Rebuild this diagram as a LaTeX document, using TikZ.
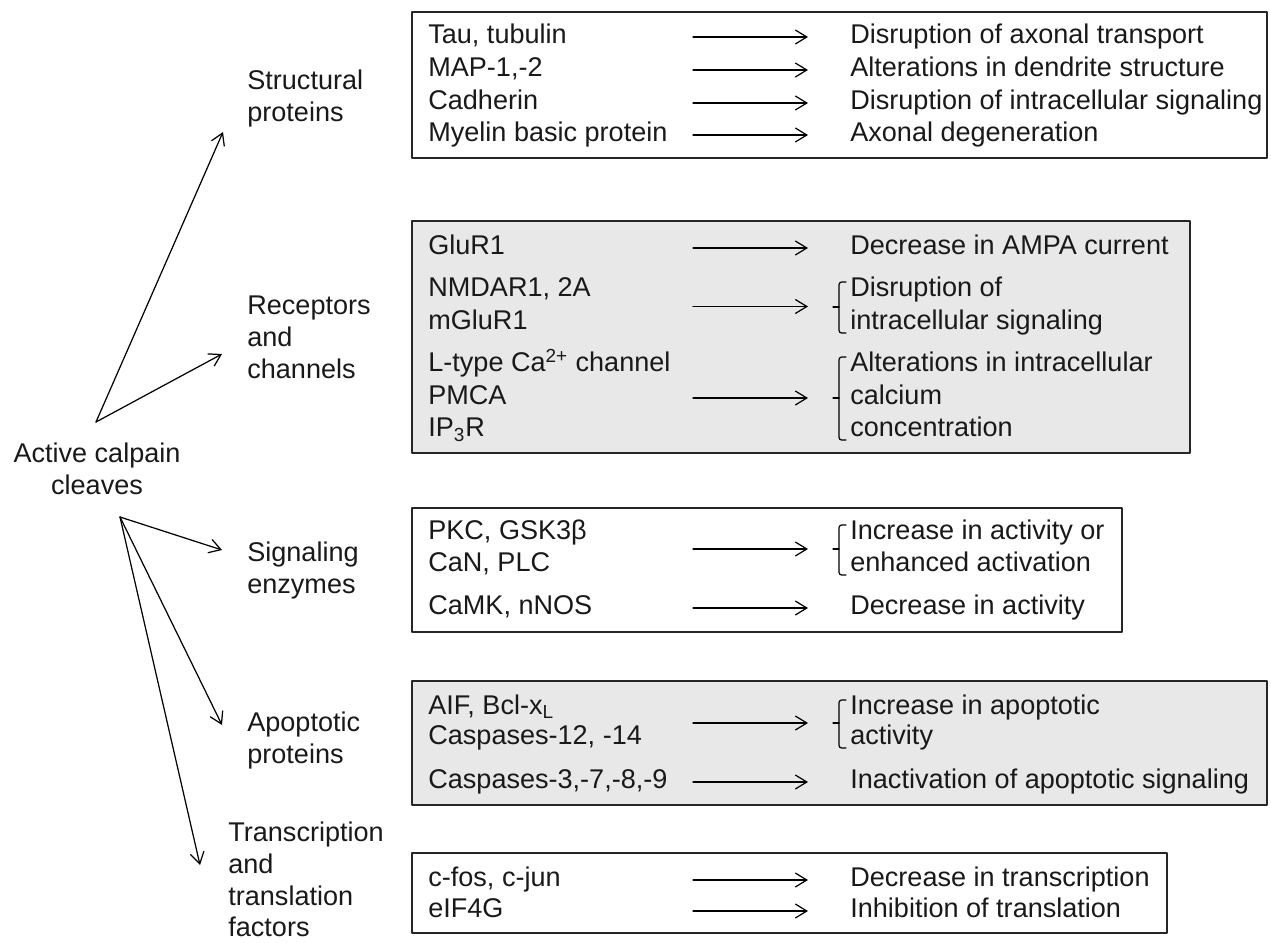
\documentclass[tikz,border=0pt]{standalone}
\usepackage{fontspec}
\setmainfont{Liberation Sans}
\usetikzlibrary{arrows.meta,calc}
\tikzset{
  every picture/.style={line join=round, line cap=round, >={Straight Barb[length=2.3mm,width=2.8mm]}},
  panel/.style={draw=black!85, line width=1.1pt},
  shaded/.style={panel, fill=black!9},
  lbl/.style={anchor=north west, align=left, inner sep=0pt},
  item/.style={anchor=west, inner sep=0pt, text height=0.75em, text depth=0pt},
  link/.style={->, line width=0.7pt},
  brk/.style={line width=0.7pt, rounded corners=1.5pt},
}

\begin{document}
\begin{tikzpicture}[x=0.02cm, y=-0.02cm, font={\fontsize{15.4pt}{18pt}\selectfont}, text=black!90]
\useasboundingbox (0,0) rectangle (1271,943);
% arrow columns
\coordinate (ax) at (693,0);
\coordinate (bx) at (808,0);

% boxes
\draw[panel] (412,12) rectangle (1267,158);
\draw[shaded] (412,221) rectangle (1190,453);
\draw[panel] (412,508) rectangle (1122,632);
\draw[shaded] (412,681) rectangle (1267,805);
\draw[panel] (412,853) rectangle (1167,933);

% left side
\node[align=center, anchor=north, inner sep=0pt] (calpain) at (97,443) {Active calpain\\cleaves};
\coordinate (fork1) at (96,422);
\coordinate (fork2) at (120,517);
\node[lbl] (struct) at (247,70) {Structural\\proteins};
\node[lbl] (recep) at (247,296) {Receptors\\and\\channels};
\node[lbl] (sigenz) at (247,542) {Signaling\\enzymes};
\node[lbl] (apop) at (247,712) {Apoptotic\\proteins};
\node[lbl] (transl) at (228,822) {Transcription\\and\\translation\\factors};
\coordinate (tipS) at (223,132);
\coordinate (tipR) at (222,354);
\coordinate (tipE) at (222,550);
\coordinate (tipA) at (222,725);
\coordinate (tipT) at (200,865);
\draw[link] (fork1) -- (tipS);
\draw[link] (fork1) -- (tipR);
\draw[link] (fork2) -- (tipE);
\draw[link] (fork2) -- (tipA);
\draw[link] (fork2) -- (tipT);

% structural proteins
\node[item] (tau) at (428,37) {Tau, tubulin};
\node[item] (map) at (428,70) {MAP-1,-2};
\node[item] (cadh) at (428,103) {Cadherin};
\node[item] (myel) at (428,135) {Myelin basic protein};
\node[item] (tauR) at (850,37) {Disruption of axonal transport};
\node[item] (mapR) at (850,70) {Alterations in dendrite structure};
\node[item] (cadhR) at (850,103) {Disruption of intracellular signaling};
\node[item] (myelR) at (850,135) {Axonal degeneration};
\draw[link] (tau -| ax) -- (tau -| bx);
\draw[link] (map -| ax) -- (map -| bx);
\draw[link] (cadh -| ax) -- (cadh -| bx);
\draw[link] (myel -| ax) -- (myel -| bx);

% receptors and channels
\node[item] (glu) at (428,248) {GluR1};
\node[item] (nmda) at (428,290) {NMDAR1, 2A};
\node[item] (mglu) at (428,323) {mGluR1};
\node[item] (ltype) at (428,365) {L-type Ca\textsuperscript{2+} channel};
\node[item] (pmca) at (428,398) {PMCA};
\node[item] (ipr) at (428,430) {IP\textsubscript{3}R};
\node[item] (gluR) at (850,248) {Decrease in AMPA current};
\node[item] (nmdaR) at (850,290) {Disruption of};
\node[item] (mgluR) at (850,323) {intracellular signaling};
\node[item] (ltypeR) at (850,365) {Alterations in intracellular};
\node[item] (pmcaR) at (850,398) {calcium};
\node[item] (iprR) at (850,430) {concentration};
\coordinate (g1) at ($(nmda)!0.5!(mglu)$);
\draw[link] (glu -| ax) -- (glu -| bx);
\draw[link] (g1 -| ax) -- (g1 -| bx);
\draw[link] (pmca -| ax) -- (pmca -| bx);

% signaling enzymes
\node[item] (pkc) at (428,533) {PKC, GSK3β};
\node[item] (can) at (428,565) {CaN, PLC};
\node[item] (camk) at (428,608) {CaMK, nNOS};
\node[item] (pkcR) at (850,533) {Increase in activity or};
\node[item] (canR) at (850,565) {enhanced activation};
\node[item] (camkR) at (850,608) {Decrease in activity};
\coordinate (g2) at ($(pkc)!0.5!(can)$);
\draw[link] (g2 -| ax) -- (g2 -| bx);
\draw[link] (camk -| ax) -- (camk -| bx);

% apoptotic proteins
\node[item] (aif) at (428,708) {AIF, Bcl-x\textsubscript{L}};
\node[item] (casA) at (428,738) {Caspases-12, -14};
\node[item] (casB) at (428,782) {Caspases-3,-7,-8,-9};
\node[item] (aifR) at (850,708) {Increase in apoptotic};
\node[item] (casAR) at (850,738) {activity};
\node[item] (casBR) at (850,782) {Inactivation of apoptotic signaling};
\coordinate (g3) at ($(aif)!0.5!(casA)$);
\draw[link] (g3 -| ax) -- (g3 -| bx);
\draw[link] (casB -| ax) -- (casB -| bx);

% transcription and translation factors
\node[item] (fos) at (428,880) {c-fos, c-jun};
\node[item] (eif) at (428,911) {eIF4G};
\node[item] (fosR) at (850,880) {Decrease in transcription};
\node[item] (eifR) at (850,911) {Inhibition of translation};
\draw[link] (fos -| ax) -- (fos -| bx);
\draw[link] (eif -| ax) -- (eif -| bx);

% brackets
\foreach \ya/\ym/\yb in {282/307/333, 357/398/440, 525/549/575, 700/723/748}{
  \draw[brk] (846,\ya) -- (839,\ya) -- (839,\yb) -- (846,\yb);
  \draw[brk] (839,\ym) -- (833,\ym);
}
\end{tikzpicture}
\end{document}
